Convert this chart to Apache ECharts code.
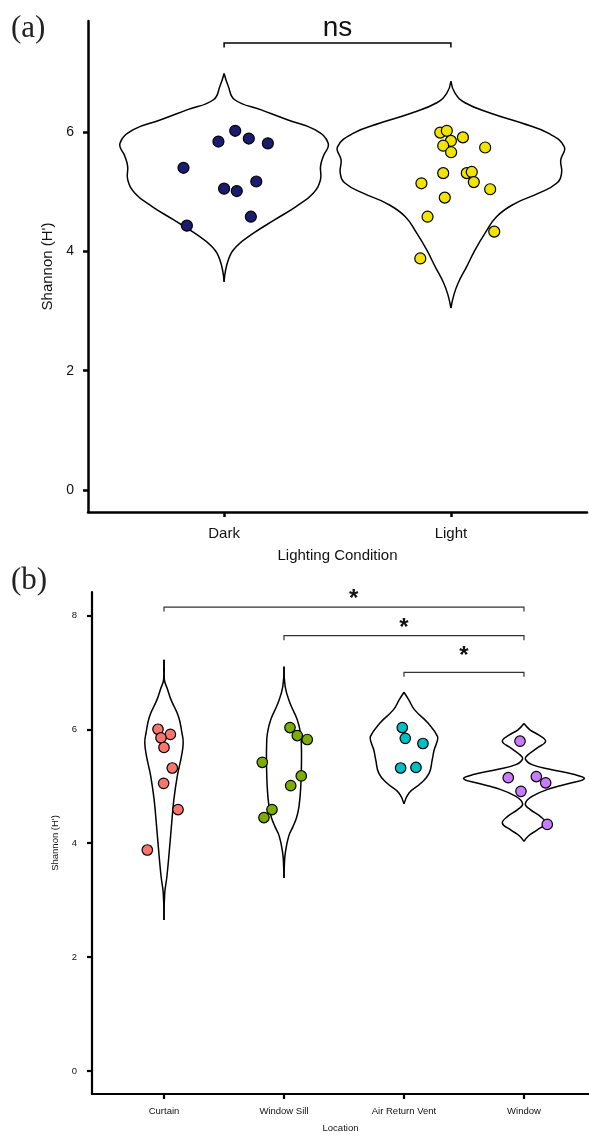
<!DOCTYPE html>
<html><head><meta charset="utf-8">
<script src="https://cdn.jsdelivr.net/npm/echarts@6/dist/echarts.min.js"></script>
<style>html,body{margin:0;padding:0;background:#fff}#c{width:589px;height:1135px}</style>
</head><body><div id="c"></div>
<script>
// ---------- categories & ticks ----------
const lightingCategories = ['Dark', 'Light'];
const locationCategories = ['Curtain', 'Window Sill', 'Air Return Vent', 'Window'];
const yTicksA = [0, 2, 4, 6];
const yTicksB = [0, 2, 4, 6, 8];

// ---------- panel (a) points: Shannon values and jitter offset (category units) ----------
const darkValues  = [6.02, 5.84, 5.89, 5.81, 5.40, 5.05, 5.01, 5.17, 4.58, 4.43];
const darkJitter  = [0.049, -0.025, 0.109, 0.193, -0.179, 0.0, 0.056, 0.142, 0.118, -0.164];
const lightValues = [5.99, 6.02, 5.85, 5.91, 5.77, 5.66, 5.74, 5.31, 5.31, 5.33, 5.16, 5.14, 5.04, 4.90, 4.58, 4.33, 3.88];
const lightJitter = [-0.047, -0.018, 0.0, 0.053, -0.034, 0.001, 0.151, -0.034, 0.070, 0.092, 0.101, -0.130, 0.173, -0.027, -0.103, 0.191, -0.135];

// ---------- panel (b) points ----------
const curtainValues = [6.00, 5.91, 5.85, 5.68, 5.32, 5.05, 4.59, 3.88];
const curtainJitter = [-0.050, 0.053, -0.025, 0.0, 0.069, -0.003, 0.117, -0.139];
const sillValues    = [6.03, 5.89, 5.82, 5.42, 5.18, 5.01, 4.59, 4.45];
const sillJitter    = [0.050, 0.111, 0.194, -0.181, 0.144, 0.056, -0.100, -0.167];
const ventValues    = [6.03, 5.84, 5.75, 5.32, 5.33];
const ventJitter    = [-0.014, 0.011, 0.158, -0.028, 0.100];
const windowValues  = [5.79, 5.15, 5.17, 5.06, 4.91, 4.33];
const windowJitter  = [-0.033, -0.131, 0.103, 0.181, -0.025, 0.194];

// ---------- violin outlines: levels (Shannon) and density half-width (category units) ----------
const darkViolinLevels  = [6.98, 6.77, 6.54, 6.37, 6.20, 6.04, 5.81, 5.59, 5.42, 5.20, 4.97, 4.75, 4.53, 4.30, 4.08, 3.85, 3.49];
const darkViolinWidth   = [0, 0.018, 0.047, 0.164, 0.282, 0.400, 0.459, 0.437, 0.425, 0.425, 0.392, 0.317, 0.224, 0.128, 0.054, 0.018, 0];
const lightViolinLevels = [6.85, 6.65, 6.49, 6.31, 6.15, 5.98, 5.75, 5.53, 5.31, 5.14, 4.97, 4.80, 4.58, 4.30, 4.02, 3.74, 3.47, 3.27, 3.05];
const lightViolinWidth  = [0, 0.018, 0.062, 0.179, 0.312, 0.429, 0.500, 0.484, 0.488, 0.466, 0.385, 0.282, 0.201, 0.150, 0.106, 0.069, 0.032, 0.013, 0];

const curtainViolinLevels = [7.22, 6.87, 6.70, 6.52, 6.23, 5.93, 5.76, 5.52, 5.17, 4.76, 4.35, 3.88, 3.41, 3.12, 2.65];
const curtainViolinWidth  = [0, 0.003, 0.030, 0.058, 0.120, 0.150, 0.160, 0.145, 0.110, 0.082, 0.064, 0.045, 0.024, 0.006, 0];
const sillViolinLevels    = [7.10, 6.75, 6.46, 6.17, 5.93, 5.70, 5.46, 5.00, 4.64, 4.45, 4.29, 4.12, 3.83, 3.60, 3.39];
const sillViolinWidth     = [0, 0.010, 0.050, 0.110, 0.138, 0.145, 0.146, 0.140, 0.125, 0.105, 0.075, 0.039, 0.011, 0.003, 0];
const ventViolinLevels    = [6.65, 6.52, 6.34, 6.11, 5.87, 5.76, 5.64, 5.46, 5.23, 5.06, 4.88, 4.69];
const ventViolinWidth     = [0, 0.039, 0.089, 0.200, 0.280, 0.272, 0.252, 0.235, 0.210, 0.145, 0.042, 0];
const windowViolinLevels  = [6.10, 5.99, 5.90, 5.79, 5.67, 5.55, 5.48, 5.38, 5.29, 5.20, 5.13, 5.06, 4.97, 4.82, 4.69, 4.59, 4.47, 4.35, 4.23, 4.13, 4.03];
const windowViolinWidth   = [0, 0.050, 0.122, 0.180, 0.108, 0.033, 0.011, 0.067, 0.233, 0.430, 0.503, 0.400, 0.233, 0.067, 0.011, 0.053, 0.136, 0.180, 0.108, 0.039, 0];

// ---------- significance brackets ----------
const bracketAFrom = [1], bracketATo = [2], bracketAY = [7.49], bracketALabel = ['ns'], bracketALabelX = [1.5], bracketALabelY = [7.73];
const bracketBFrom = [1, 2, 3], bracketBTo = [4, 4, 4], bracketBY = [8.145, 7.644, 7.00];
const bracketBLabel = ['*', '*', '*'], bracketBLabelX = [2.58, 3.0, 3.5], bracketBLabelY = [8.285, 7.775, 7.283];

// ---------- colours ----------
const colDark = '#1c1c6e', colLight = '#f0e400';
const colCurtain = '#F8766D', colSill = '#7CAE00', colVent = '#00BFC4', colWindow = '#C77CFF';

const FONT = '"Liberation Sans", Arial, Helvetica, sans-serif';

function violin(gi, center, levels, halfW, lw) {
  return {
    type: 'custom', xAxisIndex: gi, yAxisIndex: gi, silent: true, z: 1,
    data: [[center, levels[0]]],
    renderItem: function (params, api) {
      const L = [], R = [];
      for (let k = 0; k < levels.length; k++) {
        L.push(api.coord([center - halfW[k], levels[k]]));
        R.push(api.coord([center + halfW[k], levels[k]]));
      }
      const st = { fill: 'none', stroke: '#000', lineWidth: lw };
      return { type: 'group', children: [
        { type: 'polyline', shape: { points: L, smooth: 0.45 }, style: st },
        { type: 'polyline', shape: { points: R, smooth: 0.45 }, style: st }
      ]};
    }
  };
}

function points(gi, cat, values, jitter, color, size) {
  return {
    type: 'scatter', xAxisIndex: gi, yAxisIndex: gi, z: 3, silent: true,
    symbol: 'circle', symbolSize: size,
    itemStyle: { color: color, borderColor: '#000', borderWidth: 1.2, opacity: 1 },
    data: values.map((v, i) => [cat + jitter[i], v])
  };
}

function brackets(gi, from, to, ys, labels, lx, ly, font, lw, color) {
  return {
    type: 'custom', xAxisIndex: gi, yAxisIndex: gi, silent: true, z: 2,
    data: from.map((f, i) => [f, ys[i], i]),
    renderItem: function (params, api) {
      const i = params.dataIndex;
      const a = api.coord([from[i], ys[i]]);
      const b = api.coord([to[i], ys[i]]);
      const t = api.coord([lx[i], ly[i]]);
      return { type: 'group', children: [
        { type: 'polyline', shape: { points: [[a[0], a[1] + 4.5], a, b, [b[0], b[1] + 4.5]] },
          style: { fill: 'none', stroke: color, lineWidth: lw } },
        { type: 'text', x: t[0], y: t[1],
          style: { text: labels[i], font: font, fill: '#111', align: 'center', verticalAlign: 'middle' } }
      ]};
    }
  };
}

function xAxisCfg(gi, min, max, cats, fontSize, margin, name, nameGap, lw, tickLen) {
  const vals = cats.map((c, i) => i + 1);
  return {
    gridIndex: gi, type: 'value', min: min, max: max,
    axisLine: { show: true, onZero: false, lineStyle: { color: '#000', width: lw } },
    axisTick: { show: true, customValues: vals, length: tickLen, lineStyle: { color: '#000', width: lw } },
    axisLabel: { show: true, customValues: vals, formatter: v => cats[Math.round(v) - 1] || '',
      fontSize: fontSize, color: '#111', margin: margin, fontFamily: FONT },
    splitLine: { show: false },
    name: name, nameLocation: 'middle', nameGap: nameGap,
    nameTextStyle: { fontSize: fontSize, color: '#111', fontFamily: FONT }
  };
}

function yAxisCfg(gi, min, max, ticks, fontSize, margin, name, nameGap, nameSize, lw, tickLen) {
  return {
    gridIndex: gi, type: 'value', min: min, max: max,
    axisLine: { show: true, onZero: false, lineStyle: { color: '#000', width: lw } },
    axisTick: { show: true, customValues: ticks, length: tickLen, lineStyle: { color: '#000', width: lw } },
    axisLabel: { show: true, customValues: ticks, fontSize: fontSize, color: '#111', margin: margin, fontFamily: FONT },
    splitLine: { show: false },
    name: name, nameLocation: 'middle', nameGap: nameGap, nameRotate: 90,
    nameTextStyle: { fontSize: nameSize, color: '#111', fontFamily: FONT }
  };
}

const chart = echarts.init(document.getElementById('c'), null, { renderer: 'canvas' });
chart.setOption({
  animation: false,
  backgroundColor: '#fff',
  textStyle: { fontFamily: FONT },
  grid: [
    { left: 88, top: 21, width: 499, height: 491 },
    { left: 92, top: 592, width: 497, height: 502 }
  ],
  xAxis: [
    xAxisCfg(0, 0.4, 2.6, lightingCategories, 15, 14, 'Lighting Condition', 36, 2.5, 5),
    xAxisCfg(1, 0.4, 4.542, locationCategories, 9.5, 12, 'Location', 29, 2.2, 5)
  ],
  yAxis: [
    yAxisCfg(0, -0.369, 7.86, yTicksA, 14, 14, "Shannon (H')", 33, 15, 2.5, 5),
    yAxisCfg(1, -0.404, 8.41, yTicksB, 9.5, 15, "Shannon (H')", 29, 9.5, 2.2, 5)
  ],
  graphic: [
    { type: 'text', left: 11, top: 13, style: { text: '(a)', font: '31px "Liberation Serif", "Times New Roman", serif', fill: '#222' } },
    { type: 'text', left: 11, top: 565, style: { text: '(b)', font: '31px "Liberation Serif", "Times New Roman", serif', fill: '#222' } }
  ],
  series: [
    violin(0, 1, darkViolinLevels, darkViolinWidth, 1.5),
    violin(0, 2, lightViolinLevels, lightViolinWidth, 1.5),
    points(0, 1, darkValues, darkJitter, colDark, 11),
    points(0, 2, lightValues, lightJitter, colLight, 11),
    brackets(0, bracketAFrom, bracketATo, bracketAY, bracketALabel, bracketALabelX, bracketALabelY, '28px ' + FONT, 1.5, '#000'),

    violin(1, 1, curtainViolinLevels, curtainViolinWidth, 1.5),
    violin(1, 2, sillViolinLevels, sillViolinWidth, 1.5),
    violin(1, 3, ventViolinLevels, ventViolinWidth, 1.5),
    violin(1, 4, windowViolinLevels, windowViolinWidth, 1.5),
    points(1, 1, curtainValues, curtainJitter, colCurtain, 10.5),
    points(1, 2, sillValues, sillJitter, colSill, 10.5),
    points(1, 3, ventValues, ventJitter, colVent, 10.5),
    points(1, 4, windowValues, windowJitter, colWindow, 10.5),
    brackets(1, bracketBFrom, bracketBTo, bracketBY, bracketBLabel, bracketBLabelX, bracketBLabelY, 'bold 24px ' + FONT, 1.2, '#333')
  ]
});
</script>
</body></html>
